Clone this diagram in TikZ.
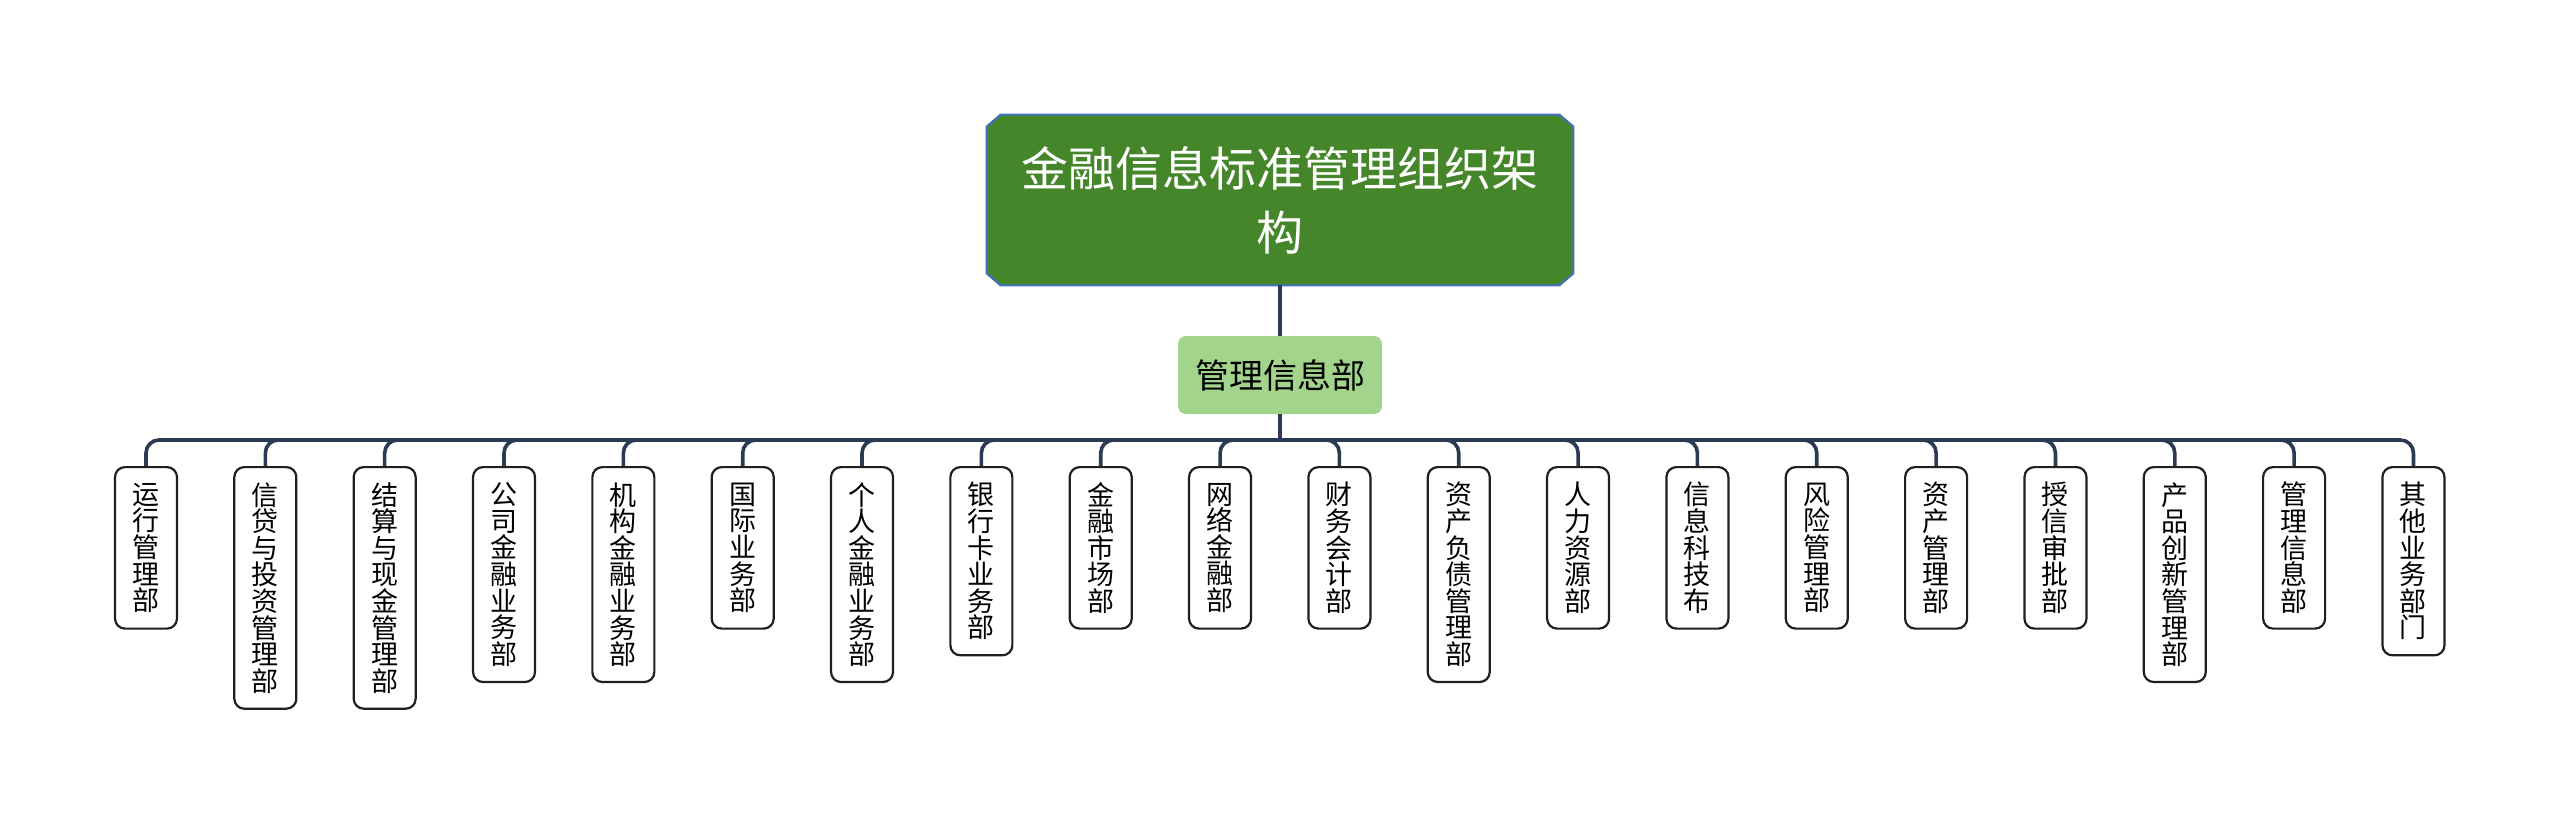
\documentclass[tikz,border=0pt]{standalone}
\usepackage{fontspec}
\newfontfamily\cjk{Noto Sans CJK SC}
\usetikzlibrary{backgrounds}
\definecolor{rootgreen}{HTML}{45862A}
\definecolor{rootblue}{HTML}{3F72C0}
\definecolor{midgreen}{HTML}{A2D58B}
\definecolor{linec}{HTML}{2B3A52}
\begin{document}
\begin{tikzpicture}[x=0.5pt,y=-0.5pt,
  conn/.style={draw=linec,line width=1.8pt},
  leafbox/.style={draw=black!88,line width=1.1pt,rounded corners=5pt,fill=white,
    minimum width=31pt,inner sep=0pt,anchor=north,align=center,
    font=\cjk\fontsize{13.5pt}{13.3pt}\selectfont},
]
\useasboundingbox (0,0) rectangle (2560,824);
\node[minimum width=293pt,minimum height=85pt,inner sep=0pt,align=center,text=white,
  font=\cjk\fontsize{23.5pt}{32pt}\selectfont] (root) at (1280,200) {金融信息标准管理组织架\\构};
\begin{scope}[on background layer]
\filldraw[fill=rootgreen,draw=rootblue,line width=1pt]
  ([xshift=7pt]root.north west) -- ([xshift=-7pt]root.north east)
  -- ([yshift=-6pt]root.north east) -- ([yshift=6pt]root.south east)
  -- ([xshift=-7pt]root.south east) -- ([xshift=7pt]root.south west)
  -- ([yshift=6pt]root.south west) -- ([yshift=-6pt]root.north west) -- cycle;
\end{scope}
\node[fill=midgreen,rounded corners=4pt,minimum width=102pt,minimum height=39pt,inner sep=0pt,
  font=\cjk\fontsize{17pt}{17pt}\selectfont] (mid) at (1280,375) {管理信息部};
\coordinate (bus) at (1280,440);
\draw[conn,line width=2.4pt] (root.south) -- (mid.north);
\draw[conn] (mid.south) -- (bus);
\foreach \i/\t/\n in {
  1/{运\\行\\管\\理\\部}/5,
  2/{信\\贷\\与\\投\\资\\管\\理\\部}/8,
  3/{结\\算\\与\\现\\金\\管\\理\\部}/8,
  4/{公\\司\\金\\融\\业\\务\\部}/7,
  5/{机\\构\\金\\融\\业\\务\\部}/7,
  6/{国\\际\\业\\务\\部}/5,
  7/{个\\人\\金\\融\\业\\务\\部}/7,
  8/{银\\行\\卡\\业\\务\\部}/6,
  9/{金\\融\\市\\场\\部}/5,
  10/{网\\络\\金\\融\\部}/5,
  11/{财\\务\\会\\计\\部}/5,
  12/{资\\产\\负\\债\\管\\理\\部}/7,
  13/{人\\力\\资\\源\\部}/5,
  14/{信\\息\\科\\技\\布}/5,
  15/{风\\险\\管\\理\\部}/5,
  16/{资\\产\\管\\理\\部}/5,
  17/{授\\信\\审\\批\\部}/5,
  18/{产\\品\\创\\新\\管\\理\\部}/7,
  19/{管\\理\\信\\息\\部}/5,
  20/{其\\他\\业\\务\\部\\门}/6}{
  \node[leafbox,minimum height={(13.35*\n+14)*1pt}] (l\i) at ({146+119.34*(\i-1)},466) {\t};
  \draw[conn,rounded corners=6.5pt] (bus) -| (l\i.north);
}
\end{tikzpicture}
\end{document}
